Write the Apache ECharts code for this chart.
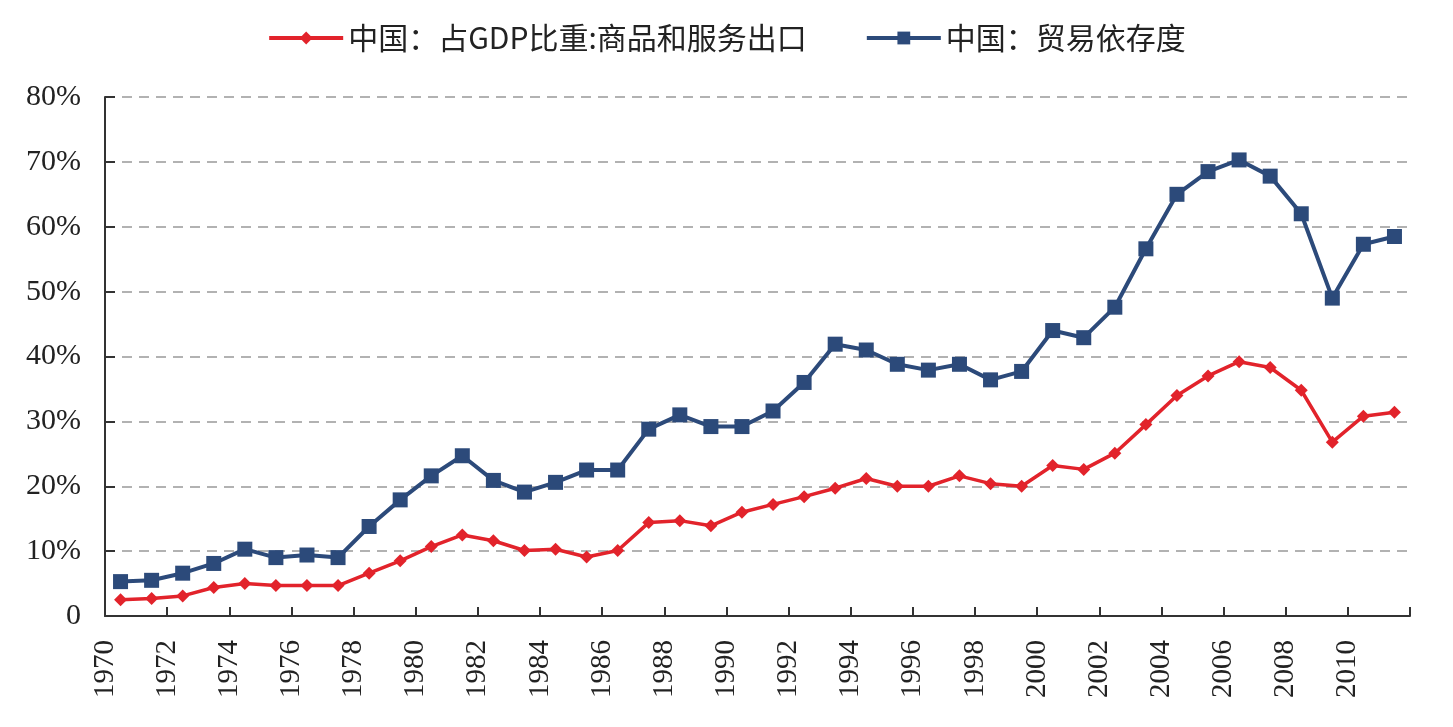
<!DOCTYPE html>
<html>
<head>
<meta charset="utf-8">
<script src="https://cdn.jsdelivr.net/npm/echarts@6/dist/echarts.min.js"></script>
<style>
    html, body { margin: 0; padding: 0; background: #fff; }
    #chart { width: 1453px; height: 727px; }
</style>
</head>
<body>
<div id="chart"></div>
<script>
// years 1970-2011
const years = [];
for (let y = 1970; y <= 2011; y++) years.push(String(y));

const exportShare = [
    2.5, 2.7, 3.1, 4.4, 5.0, 4.7, 4.7, 4.7, 6.6, 8.5,
    10.7, 12.5, 11.6, 10.1, 10.3, 9.1, 10.1, 14.4, 14.7, 13.9,
    16.0, 17.2, 18.4, 19.7, 21.2, 20.0, 20.0, 21.6, 20.4, 20.0,
    23.2, 22.6, 25.1, 29.5, 34.0, 37.0, 39.2, 38.3, 34.8, 26.8,
    30.8, 31.4
];
const tradeDependence = [
    5.3, 5.5, 6.6, 8.1, 10.3, 9.0, 9.4, 9.0, 13.8, 17.9,
    21.6, 24.7, 20.9, 19.1, 20.6, 22.5, 22.5, 28.8, 31.0, 29.2,
    29.2, 31.6, 36.0, 41.9, 41.0, 38.8, 37.9, 38.8, 36.4, 37.7,
    44.0, 42.9, 47.6, 56.6, 65.0, 68.5, 70.3, 67.8, 62.0, 49.0,
    57.3, 58.5
];
const seriesNames = ['中国：占GDP比重:商品和服务出口', '中国：贸易依存度'];

const chart = echarts.init(document.getElementById('chart'));
const serif = '"Liberation Serif", "Times New Roman", serif';
const axisColor = '#333';

chart.setOption({
    animation: false,
    legend: {
        top: 18,
        left: 'center',
        itemWidth: 74,
        itemHeight: 16,
        itemGap: 58,
        lineStyle: { width: 4 },
        textStyle: {
            fontSize: 30,
            color: '#222',
            fontFamily: '"Noto Sans CJK SC", sans-serif'
        },
        data: seriesNames
    },
    grid: {
        left: 105,
        right: 43,
        top: 97,
        bottom: 111
    },
    xAxis: [{
        type: 'category',
        data: years,
        boundaryGap: true,
        show: false
    }, {
        type: 'value',
        position: 'bottom',
        min: 1970,
        max: 2012,
        interval: 2,
        axisLine: { show: true, lineStyle: { color: axisColor, width: 2 } },
        axisTick: { show: true, inside: true, length: 9, lineStyle: { color: axisColor, width: 2 } },
        splitLine: { show: false },
        axisLabel: {
            rotate: 90,
            margin: 24,
            fontSize: 29,
            color: '#222',
            fontFamily: serif,
            showMaxLabel: true,
            formatter: function (v) {
                return v === 2012 ? '' : String(v);
            }
        }
    }],
    yAxis: {
        type: 'value',
        min: 0,
        max: 80,
        interval: 10,
        axisLine: { show: true, lineStyle: { color: axisColor, width: 2 } },
        axisTick: { show: true, inside: true, length: 10, lineStyle: { color: axisColor, width: 2 } },
        splitLine: {
            show: true,
            lineStyle: { color: '#999', width: 1.5, type: [10, 7] }
        },
        axisLabel: {
            fontSize: 30,
            color: '#222',
            margin: 24,
            fontFamily: serif,
            formatter: function (v) {
                return v === 0 ? '0' : v + '%';
            }
        }
    },
    series: [{
        name: seriesNames[0],
        type: 'line',
        xAxisIndex: 0,
        data: exportShare,
        symbol: 'diamond',
        symbolSize: 13,
        lineStyle: { color: '#e2232b', width: 3.5 },
        itemStyle: { color: '#e2232b' },
        z: 3
    }, {
        name: seriesNames[1],
        type: 'line',
        xAxisIndex: 0,
        data: tradeDependence,
        symbol: 'rect',
        symbolSize: 15,
        lineStyle: { color: '#2c4a7a', width: 4 },
        itemStyle: { color: '#2c4a7a' },
        z: 2
    }]
});
</script>
</body>
</html>
